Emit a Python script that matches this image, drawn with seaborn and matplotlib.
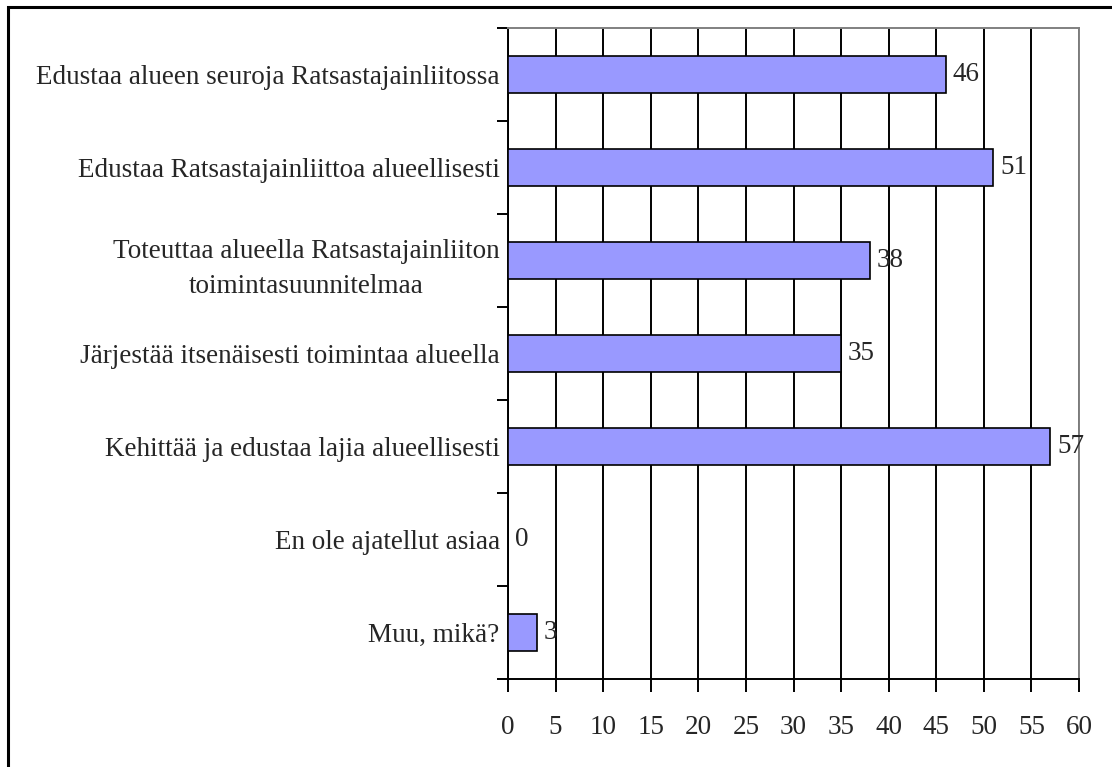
import matplotlib
matplotlib.use("Agg")
import matplotlib.pyplot as plt
import seaborn as sns
import pandas as pd
import numpy as np

sns.set_theme(style="white")
plt.rcParams['font.family'] = ['Liberation Serif', 'DejaVu Serif']

# Data
kategoriat = [
    "Edustaa alueen seuroja Ratsastajainliitossa",
    "Edustaa Ratsastajainliittoa alueellisesti",
    "Toteuttaa alueella Ratsastajainliiton\ntoimintasuunnitelmaa",
    "Järjestää itsenäisesti toimintaa alueella",
    "Kehittää ja edustaa lajia alueellisesti",
    "En ole ajatellut asiaa",
    "Muu, mikä?",
]
arvot = [46, 51, 38, 35, 57, 0, 3]
x_ticks = list(range(0, 61, 5))

df = pd.DataFrame({"kategoria": kategoriat, "arvo": arvot})

fig = plt.figure(figsize=(11.12, 7.67), dpi=100)
ax = fig.add_axes([508 / 1112, 1 - 679 / 767, (1079 - 508) / 1112, (679 - 28) / 767])

# outer frame (only left and top visible in the reference)
fig.patches.append(plt.Rectangle((8 / 1112, -0.1), 1.2, 1 - 7 / 767 + 0.1,
                                 transform=fig.transFigure, fill=False,
                                 edgecolor="black", linewidth=2.2, zorder=0))

sns.barplot(data=df, y="kategoria", x="arvo", orient="h", ax=ax,
            color="#9999FF", saturation=1, width=0.39,
            edgecolor="black", linewidth=1.2, zorder=3)

ax.set_xlim(0, 60)
ax.set_ylim(6.5, -0.5)
ax.set_xticks(x_ticks)
ax.xaxis.grid(True, color="black", linewidth=1.4, zorder=0)
ax.set_axisbelow(True)

for lab in ax.get_yticklabels():
    lab.set_multialignment("center")
    lab.set_linespacing(1.55)

ax.set_yticks(np.arange(-0.5, 7, 1), minor=True)
ax.tick_params(axis="y", which="major", length=0, pad=6, labelsize=19.5)
ax.tick_params(axis="y", which="minor", length=8, width=1.4, color="black", direction="out", left=True)
ax.tick_params(axis="x", which="major", length=9, width=1.4, color="black", direction="out",
               bottom=True, pad=17, labelsize=19.5)

for side in ["left", "bottom"]:
    ax.spines[side].set_color("black")
    ax.spines[side].set_linewidth(1.4)
for side in ["top", "right"]:
    ax.spines[side].set_color("#808080")
    ax.spines[side].set_linewidth(1.4)

for c in ax.containers:
    ax.bar_label(c, labels=[str(v) for v in arvot], padding=5, fontsize=19.5, zorder=5)

ax.set_xlabel("")
ax.set_ylabel("")

fig.savefig("out.png", dpi=100)
